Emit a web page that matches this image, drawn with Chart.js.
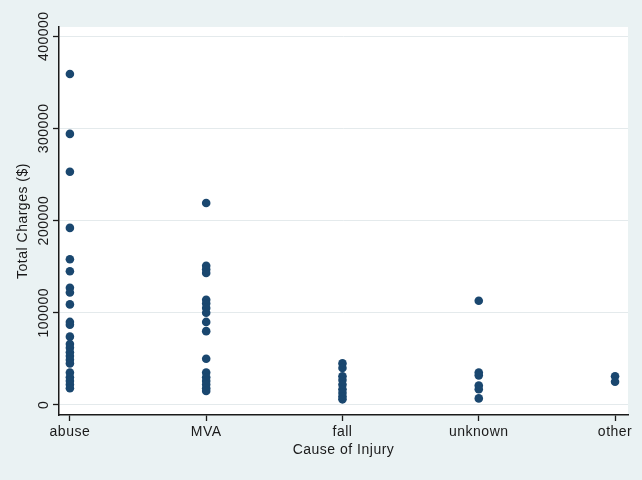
<!DOCTYPE html>
<html>
<head>
<meta charset="utf-8">
<script src="https://cdn.jsdelivr.net/npm/chart.js@4"></script>
<style>
  html, body { margin: 0; padding: 0; background: #eaf2f3; }
  #wrap { width: 642px; height: 480px; }
</style>
</head>
<body>
<div id="wrap"><canvas id="chart" width="642" height="480"></canvas></div>
<script>
// categories on the x axis
const categories = ['abuse', 'MVA', 'fall', 'unknown', 'other'];

// total charges ($) per case, one array per cause
const abuseCharges = [359000, 294000, 253000, 192000, 158000, 145000, 127000, 122000, 109000, 90000, 87000, 74000, 66000, 62000, 57000, 53000, 49000, 45000, 35000, 30000, 26000, 22000, 18000];
const mvaCharges = [219000, 151000, 147000, 143000, 114000, 110000, 105000, 100000, 90000, 80000, 50000, 35000, 30000, 26000, 22000, 18000, 15000];
const fallCharges = [45000, 40000, 31000, 27000, 22000, 17000, 13000, 9000, 6000];
const unknownCharges = [113000, 35000, 32000, 21000, 17000, 7000];
const otherCharges = [31000, 25000];

const yTicks = [0, 100000, 200000, 300000, 400000];

const allCharges = [abuseCharges, mvaCharges, fallCharges, unknownCharges, otherCharges];
const points = [];
allCharges.forEach((arr, i) => {
  arr.forEach(v => points.push({ x: i + 1, y: v }));
});

const FONT = 'Liberation Sans, Arial, Helvetica, sans-serif';
const INK = '#1a1a1a';

// white plot region + rotated y tick labels
const stataLook = {
  id: 'stataLook',
  beforeDraw(chart) {
    const a = chart.chartArea;
    const ctx = chart.ctx;
    ctx.letterSpacing = '0.5px';
    ctx.save();
    ctx.fillStyle = '#ffffff';
    ctx.fillRect(a.left, a.top, a.right - a.left, a.bottom - a.top);
    ctx.restore();
  },
  afterDraw(chart) {
    const ctx = chart.ctx;
    const y = chart.scales.y;
    ctx.save();
    ctx.fillStyle = INK;
    ctx.font = '14px ' + FONT;
    ctx.textAlign = 'center';
    ctx.textBaseline = 'alphabetic';
    yTicks.forEach(v => {
      ctx.save();
      ctx.translate(48, y.getPixelForValue(v));
      ctx.rotate(-Math.PI / 2);
      ctx.fillText(String(v), 0, 0);
      ctx.restore();
    });
    ctx.restore();
  }
};

new Chart(document.getElementById('chart'), {
  type: 'scatter',
  data: {
    datasets: [{
      label: 'Total Charges ($)',
      data: points,
      backgroundColor: '#1a476f',
      borderColor: '#1a476f',
      pointRadius: 4.3,
      pointBorderWidth: 0
    }]
  },
  options: {
    responsive: false,
    animation: false,
    layout: { padding: { top: 27, right: 14, left: 0, bottom: 0 } },
    plugins: {
      legend: { display: false },
      tooltip: { enabled: false }
    },
    scales: {
      x: {
        type: 'linear',
        min: 0.92,
        max: 5.095,
        afterBuildTicks(scale) {
          scale.ticks = categories.map((c, i) => ({ value: i + 1 }));
        },
        afterFit(scale) { scale.height = 65; },
        ticks: {
          color: INK,
          font: { family: FONT, size: 14 },
          padding: 3,
          maxRotation: 0,
          autoSkip: false,
          callback: (v) => categories[v - 1]
        },
        grid: {
          drawOnChartArea: false,
          drawTicks: true,
          tickLength: 6,
          tickColor: INK,
          tickWidth: 1.3
        },
        border: { display: true, color: INK, width: 1.5 },
        title: {
          display: true,
          text: 'Cause of Injury',
          color: INK,
          font: { family: FONT, size: 14 },
          padding: { top: 0, bottom: 21 }
        }
      },
      y: {
        type: 'linear',
        min: -11000,
        max: 410000,
        afterBuildTicks(scale) {
          scale.ticks = yTicks.map(v => ({ value: v }));
        },
        afterFit(scale) { scale.width = 59; },
        ticks: { display: false },
        grid: {
          color: '#e4eaec',
          lineWidth: 1,
          drawTicks: true,
          tickLength: 6,
          tickColor: INK,
          tickWidth: 1.3
        },
        border: { display: true, color: INK, width: 1.5 },
        title: {
          display: true,
          text: 'Total Charges ($)',
          color: INK,
          font: { family: FONT, size: 14 },
          padding: { top: 15, bottom: 0 }
        }
      }
    }
  },
  plugins: [stataLook]
});
</script>
</body>
</html>
